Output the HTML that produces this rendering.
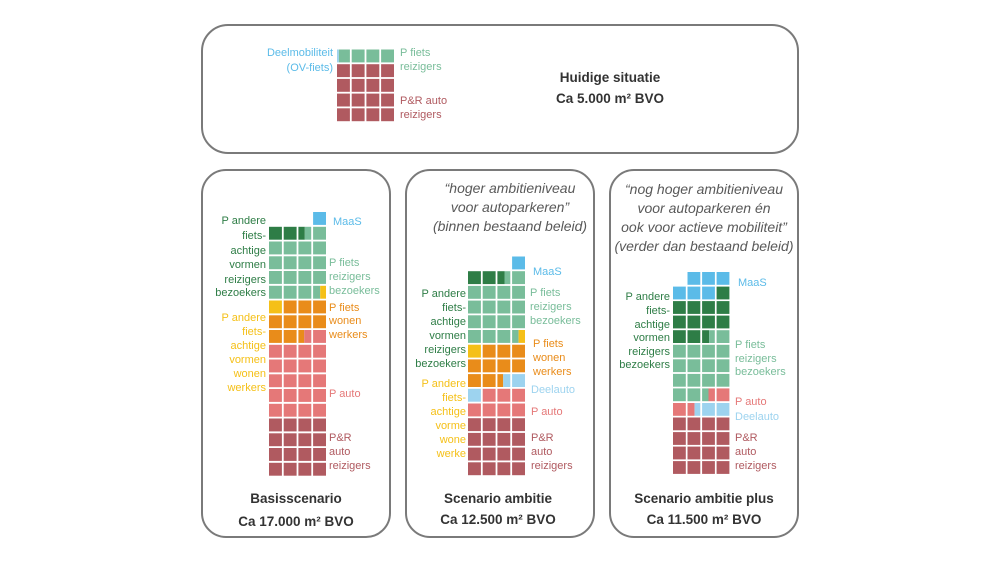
<!DOCTYPE html>
<html><head><meta charset="utf-8"><style>
html,body{margin:0;padding:0;background:#fff;}
svg{display:block;font-family:"Liberation Sans",sans-serif;}
.l{font-size:11px;}
.t{font-size:13.5px;font-weight:bold;fill:#333;}
.q{font-size:14px;font-style:italic;fill:#595959;}
</style></head><body>
<svg id="s" width="1000" height="563" viewBox="0 0 1000 563" xmlns="http://www.w3.org/2000/svg">
<g fill="none" stroke="#7a7a7a" stroke-width="2">
<rect x="202" y="25" width="596" height="128" rx="26"/>
<rect x="202" y="170" width="188" height="367" rx="24"/>
<rect x="406" y="170" width="188" height="367" rx="24"/>
<rect x="610" y="170" width="188" height="367" rx="24"/>
</g>
<g id="cells"></g>
<g class="l">
<text x="333" y="56" text-anchor="end" fill="#5bbbe8">Deelmobiliteit</text>
<text x="333" y="71" text-anchor="end" fill="#5bbbe8">(OV-fiets)</text>
<text x="400" y="56" fill="#79bd9a">P fiets</text>
<text x="400" y="70" fill="#79bd9a">reizigers</text>
<text x="400" y="104" fill="#b05a60">P&amp;R auto</text>
<text x="400" y="118" fill="#b05a60">reizigers</text>
</g>
<text class="t" x="610" y="82" text-anchor="middle">Huidige situatie</text>
<text class="t" x="610" y="103" text-anchor="middle">Ca 5.000 m² BVO</text>
<g class="l" text-anchor="end" fill="#2e7d46">
<text x="266" y="224">P andere</text><text x="266" y="239">fiets-</text><text x="266" y="254">achtige</text><text x="266" y="268">vormen</text><text x="266" y="283">reizigers</text><text x="266" y="296">bezoekers</text>
</g>
<g class="l" text-anchor="end" fill="#f5c018">
<text x="266" y="321">P andere</text><text x="266" y="335">fiets-</text><text x="266" y="349">achtige</text><text x="266" y="363">vormen</text><text x="266" y="377">wonen</text><text x="266" y="391">werkers</text>
</g>
<g class="l">
<text x="333" y="225" fill="#5bbbe8">MaaS</text>
<text x="329" y="266" fill="#79bd9a">P fiets</text><text x="329" y="280" fill="#79bd9a">reizigers</text><text x="329" y="294" fill="#79bd9a">bezoekers</text>
<text x="329" y="311" fill="#e98c1a">P fiets</text><text x="329" y="324" fill="#e98c1a">wonen</text><text x="329" y="338" fill="#e98c1a">werkers</text>
<text x="329" y="397" fill="#e57878">P auto</text>
<text x="329" y="441" fill="#b05a60">P&amp;R</text><text x="329" y="455" fill="#b05a60">auto</text><text x="329" y="469" fill="#b05a60">reizigers</text>
</g>
<text class="t" x="296" y="503" text-anchor="middle">Basisscenario</text>
<text class="t" x="296" y="526" text-anchor="middle">Ca 17.000 m² BVO</text>
<g class="q" text-anchor="middle">
<text x="510" y="193">“hoger ambitieniveau</text><text x="510" y="212">voor autoparkeren”</text><text x="510" y="231">(binnen bestaand beleid)</text>
</g>
<g class="l" text-anchor="end" fill="#2e7d46">
<text x="466" y="297">P andere</text><text x="466" y="311">fiets-</text><text x="466" y="325">achtige</text><text x="466" y="339">vormen</text><text x="466" y="353">reizigers</text><text x="466" y="367">bezoekers</text>
</g>
<g class="l" text-anchor="end" fill="#f5c018">
<text x="466" y="387">P andere</text><text x="466" y="401">fiets-</text><text x="466" y="415">achtige</text><text x="466" y="429">vorme</text><text x="466" y="443">wone</text><text x="466" y="457">werke</text>
</g>
<g class="l">
<text x="533" y="275" fill="#5bbbe8">MaaS</text>
<text x="530" y="296" fill="#79bd9a">P fiets</text><text x="530" y="310" fill="#79bd9a">reizigers</text><text x="530" y="324" fill="#79bd9a">bezoekers</text>
<text x="533" y="347" fill="#e98c1a">P fiets</text><text x="533" y="361" fill="#e98c1a">wonen</text><text x="533" y="375" fill="#e98c1a">werkers</text>
<text x="531" y="393" fill="#9dd3ef">Deelauto</text>
<text x="531" y="415" fill="#e57878">P auto</text>
<text x="531" y="441" fill="#b05a60">P&amp;R</text><text x="531" y="455" fill="#b05a60">auto</text><text x="531" y="469" fill="#b05a60">reizigers</text>
</g>
<text class="t" x="498" y="503" text-anchor="middle">Scenario ambitie</text>
<text class="t" x="498" y="524" text-anchor="middle">Ca 12.500 m² BVO</text>
<g class="q" text-anchor="middle">
<text x="704" y="194">“nog hoger ambitieniveau</text><text x="704" y="213">voor autoparkeren én</text><text x="704" y="232">ook voor actieve mobiliteit”</text><text x="704" y="251">(verder dan bestaand beleid)</text>
</g>
<g class="l" text-anchor="end" fill="#2e7d46">
<text x="670" y="300">P andere</text><text x="670" y="314">fiets-</text><text x="670" y="328">achtige</text><text x="670" y="341">vormen</text><text x="670" y="355">reizigers</text><text x="670" y="368">bezoekers</text>
</g>
<g class="l">
<text x="738" y="286" fill="#5bbbe8">MaaS</text>
<text x="735" y="348" fill="#79bd9a">P fiets</text><text x="735" y="362" fill="#79bd9a">reizigers</text><text x="735" y="375" fill="#79bd9a">bezoekers</text>
<text x="735" y="405" fill="#e57878">P auto</text>
<text x="735" y="420" fill="#9dd3ef">Deelauto</text>
<text x="735" y="441" fill="#b05a60">P&amp;R</text><text x="735" y="455" fill="#b05a60">auto</text><text x="735" y="469" fill="#b05a60">reizigers</text>
</g>
<text class="t" x="704" y="503" text-anchor="middle">Scenario ambitie plus</text>
<text class="t" x="704" y="524" text-anchor="middle">Ca 11.500 m² BVO</text>
</svg>
<script>
var C={D:"#2e7d46",G:"#79bd9a",Y:"#f5c018",O:"#e98c1a",P:"#e57878",R:"#b05a60",B:"#5bbbe8",L:"#9dd3ef"};
var g=document.getElementById("cells"),out="";
function rect(x,y,w,h,c){out+='<rect x="'+x.toFixed(1)+'" y="'+y.toFixed(1)+'" width="'+w.toFixed(1)+'" height="'+h.toFixed(1)+'" fill="'+c+'"/>';}
function grid(x0,y0,px,py,rows){
 rows.forEach(function(r,ri){
  r.forEach(function(c,ci){
   if(!c)return;
   var x=x0+ci*px,y=y0+ri*py,w=px-1.8,h=py-1.8;
   if(c.length==1)rect(x,y,w,h,C[c]);
   else{var f=parseFloat(c.slice(2));rect(x,y,w*f,h,C[c[0]]);rect(x+w*f,y,w*(1-f),h,C[c[1]]);}
  });
 });
}
var G4=["G","G","G","G"],O4=["O","O","O","O"],P4=["P","P","P","P"],R4=["R","R","R","R"],D4=["D","D","D","D"];
grid(337,49.5,14.7,14.7,[["LG0.15","G","G","G"],R4,R4,R4,R4]);
grid(269,212,14.7,14.75,[[0,0,0,"B"],["D","D","DG0.5","G"],G4,G4,G4,["G","G","G","GY0.55"],["Y","O","O","O"],O4,["O","O","OP0.45","P"],P4,P4,P4,P4,P4,R4,R4,R4,R4]);
grid(468,256.5,14.7,14.7,[[0,0,0,"B"],["D","D","DG0.55","G"],G4,G4,G4,["G","G","G","GY0.5"],["Y","O","O","O"],O4,["O","O","OL0.45","L"],["L","P","P","P"],P4,R4,R4,R4,R4]);
grid(673,272,14.55,14.55,[[0,"B","B","B"],["B","B","B","D"],D4,D4,["D","D","DG0.55","G"],G4,G4,G4,["G","G","GP0.5","P"],["P","PL0.55","L","L"],R4,R4,R4,R4]);
g.innerHTML=out;
</script>
</body></html>
